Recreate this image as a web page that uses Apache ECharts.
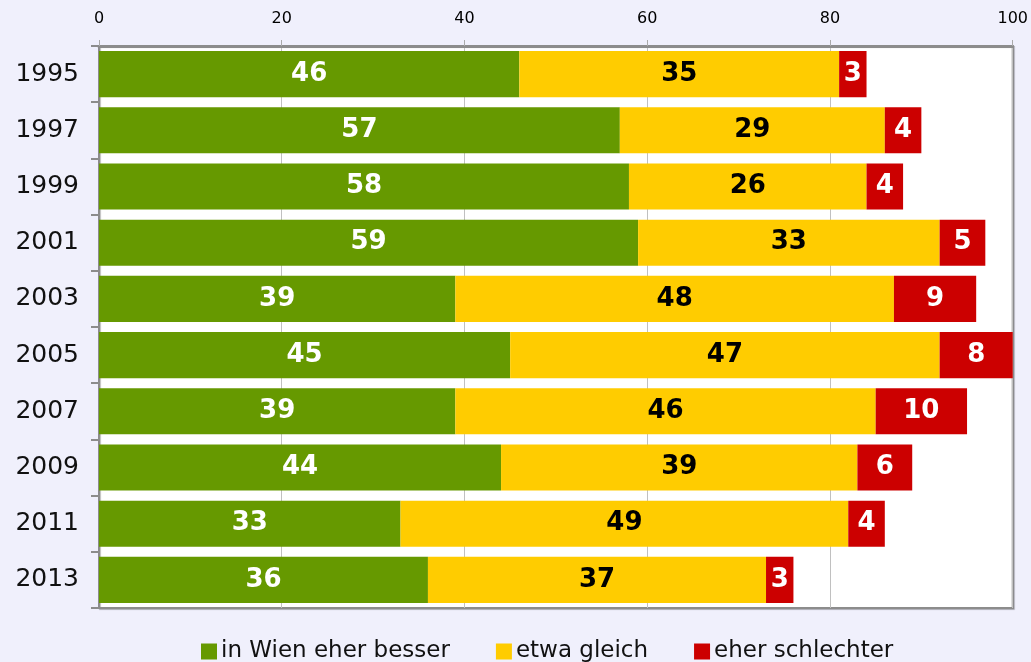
<!DOCTYPE html>
<html>
<head>
<meta charset="utf-8">
<script src="https://cdn.jsdelivr.net/npm/echarts@6/dist/echarts.min.js"></script>
<style>
  html, body { margin: 0; padding: 0; background: #f0f0fc; }
  #chart { width: 1031px; height: 662px; }
</style>
</head>
<body>
<div id="chart"></div>
<script>
// Jahre (von oben nach unten)
const years = ['1995', '1997', '1999', '2001', '2003', '2005', '2007', '2009', '2011', '2013']
const besser = [46, 57, 58, 59, 39, 45, 39, 44, 33, 36]
const gleich = [35, 29, 26, 33, 48, 47, 46, 39, 49, 37]
const schlechter = [3, 4, 4, 5, 9, 8, 10, 6, 4, 3]
const seriesNames = ['in Wien eher besser', 'etwa gleich', 'eher schlechter']

const font = 'DejaVu Sans'

function barSeries(name, data, color, labelColor) {
  return {
    name: name,
    type: 'bar',
    stack: 'total',
    data: data,
    barCategoryGap: '18%',
    itemStyle: { color: color },
    label: {
      show: true,
      position: 'inside',
      color: labelColor,
      fontFamily: font,
      fontWeight: 'bold',
      fontSize: 26
    }
  }
}

const chart = echarts.init(document.getElementById('chart'))
chart.setOption({
  backgroundColor: '#f0f0fc',
  animation: false,
  textStyle: { fontFamily: font },
  grid: {
    left: 99, right: 18, top: 46, bottom: 54,
    show: true,
    backgroundColor: '#ffffff',
    borderColor: '#8c8c8c',
    borderWidth: 2,
    shadowColor: 'rgba(0,0,0,0.25)',
    shadowOffsetX: 1,
    shadowOffsetY: 1,
    shadowBlur: 1
  },
  legend: {
    bottom: -1,
    padding: 0,
    left: 201,
    itemWidth: 16,
    itemHeight: 16,
    itemGap: 46,
    icon: 'rect',
    textStyle: { fontFamily: font, fontSize: 23, color: '#111', padding: [0, 0, 0, -1] },
    data: seriesNames
  },
  xAxis: {
    type: 'value',
    position: 'top',
    min: 0, max: 100, interval: 20,
    axisLine: { show: true, lineStyle: { color: '#8c8c8c', width: 3 } },
    axisTick: { show: true, length: 6, lineStyle: { color: '#aaaaaa' } },
    axisLabel: { fontFamily: font, fontSize: 16, color: '#000', margin: 19 },
    splitLine: { show: true, lineStyle: { color: '#c0c0c0', width: 1 } }
  },
  yAxis: {
    type: 'category',
    inverse: true,
    data: years,
    axisLine: { show: true, lineStyle: { color: '#8c8c8c', width: 2 } },
    axisTick: { show: true, length: 8, lineStyle: { color: '#8c8c8c', width: 2 } },
    axisLabel: { fontFamily: font, fontSize: 25, color: '#111', margin: 20 }
  },
  series: [
    barSeries(seriesNames[0], besser, '#669900', '#ffffff'),
    barSeries(seriesNames[1], gleich, '#ffcc00', '#000000'),
    barSeries(seriesNames[2], schlechter, '#cc0000', '#ffffff')
  ]
})
</script>
</body>
</html>
